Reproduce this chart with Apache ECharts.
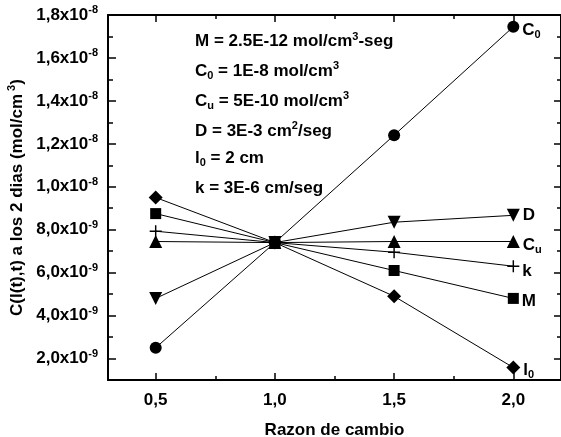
<!DOCTYPE html>
<html>
<head>
<meta charset="utf-8">
<script src="https://cdn.jsdelivr.net/npm/echarts@6/dist/echarts.min.js"></script>
<style>
  html, body { margin: 0; padding: 0; background: #fff; }
  #chart { width: 561px; height: 437px; }
</style>
</head>
<body>
<div id="chart"></div>
<script>
// values in units of 1e-9 mol/cm3
const ratio = [0.5, 1.0, 1.5, 2.0]
const c0Vals = [2.5, 7.4, 12.4, 17.45]
const dVals = [4.8, 7.4, 8.35, 8.67]
const cuVals = [7.45, 7.4, 7.45, 7.45]
const kVals = [7.93, 7.4, 6.95, 6.3]
const mVals = [8.75, 7.4, 6.1, 4.8]
const l0Vals = [9.5, 7.4, 4.9, 1.58]

const xMajor = [0.5, 1.0, 1.5, 2.0]
const xMinor = [0.75, 1.25, 1.75]
const yMajor = [2, 4, 6, 8, 10, 12, 14, 16, 18]
const yMinor = [3, 5, 7, 9, 11, 13, 15, 17]

const notes = [
    '{t|M = 2.5E-12 mol/cm}{sup|3}{t|-seg}',
    '{t|C}{sub|0}{t| = 1E-8 mol/cm}{sup|3}',
    '{t|C}{sub|u}{t| = 5E-10 mol/cm}{sup|3}',
    '{t|D = 3E-3 cm}{sup|2}{t|/seg}',
    '{t|l}{sub|0}{t| = 2 cm}',
    '{t|k = 3E-6 cm/seg}'
]

const FONT = '"Liberation Sans", Arial, sans-serif'
const rich = {
    t: {fontFamily: FONT, fontWeight: 'bold', fontSize: 17, color: '#000'},
    sup: {fontFamily: FONT, fontWeight: 'bold', fontSize: 11, color: '#000', padding: [0, 0, 10, 0]},
    sub: {fontFamily: FONT, fontWeight: 'bold', fontSize: 11, color: '#000', padding: [9, 0, 0, 0]}
}

let chart = echarts.init(document.getElementById('chart'))

let fmtY = (v) => {
    if (v >= 10) return '{t|' + (v / 10).toFixed(1).replace('.', ',') + 'x10}{sup|-8}'
    return '{t|' + v.toFixed(1).replace('.', ',') + 'x10}{sup|-9}'
}

// helper for box axes with inside ticks
let xAx = (pos, vals, len, show, extra) => Object.assign({
    type: 'value', position: pos, min: 0.3, max: 2.2,
    axisLine: {show: show, lineStyle: {color: '#000', width: 2}},
    axisTick: {show: true, inside: true, length: len, customValues: vals, lineStyle: {color: '#000', width: 1.5}},
    axisLabel: {show: false},
    splitLine: {show: false}
}, extra || {})

let yAx = (pos, vals, len, show, extra) => Object.assign({
    type: 'value', position: pos, min: 1, max: 18,
    axisLine: {show: show, lineStyle: {color: '#000', width: 2}},
    axisTick: {show: true, inside: true, length: len, customValues: vals, lineStyle: {color: '#000', width: 1.5}},
    axisLabel: {show: false},
    splitLine: {show: false}
}, extra || {})

let endLabel = (txt, dy) => ({
    show: true, position: 'right', distance: 3, offset: [0, dy],
    formatter: txt, rich: rich
})

let mkSeries = (name, vals, symbol, size, lbl, dy, rot) => ({
    name: name, type: 'line', xAxisIndex: 0, yAxisIndex: 0,
    data: ratio.map((x, i) => {
        let p = {value: [x, vals[i]]}
        if (i === ratio.length - 1) p.label = endLabel(lbl, dy)
        return p
    }),
    symbol: symbol, symbolSize: size, symbolRotate: rot || 0,
    showAllSymbol: true,
    lineStyle: {color: '#000', width: 1},
    itemStyle: {color: '#000'},
    label: {show: false},
    z: 3
})

const plusPath = 'path://M0 4.4H10V5.6H0Z M4.4 0H5.6V10H4.4Z'

chart.setOption({
    animation: false,
    backgroundColor: '#fff',
    grid: {left: 108, top: 15, right: 0, bottom: 57, outerBoundsMode: 'none'},
    xAxis: [
        xAx('bottom', xMajor, 7, true, {
            name: 'Razon de cambio', nameLocation: 'middle', nameGap: 42,
            nameTextStyle: {fontFamily: FONT, fontWeight: 'bold', fontSize: 17, color: '#000'},
            axisLabel: {show: true, customValues: xMajor, margin: 12,
                formatter: (v) => v.toFixed(1).replace('.', ','),
                fontFamily: FONT, fontWeight: 'bold', fontSize: 17, color: '#000'}
        }),
        xAx('bottom', xMinor, 4, false),
        xAx('top', xMajor, 7, true),
        xAx('top', xMinor, 4, false)
    ],
    yAxis: [
        yAx('left', yMajor, 8, true, {
            name: '{t|C(l(t),t) a los 2 dias (mol/cm}{sup| 3}{t|)}',
            nameLocation: 'middle', nameGap: 80,
            nameTextStyle: {rich: rich},
            axisLabel: {show: true, customValues: yMajor, margin: 10,
                formatter: fmtY, rich: rich}
        }),
        yAx('left', yMinor, 5, false),
        yAx('right', yMajor, 7, true),
        yAx('right', yMinor, 4, false)
    ],
    graphic: notes.map((n, i) => ({
        type: 'text', left: 195, top: 31 + i * 29.8,
        style: {text: n, rich: rich}
    })),
    series: [
        mkSeries('C0', c0Vals, 'circle', 12, '{t|C}{sub|0}', 4),
        mkSeries('D', dVals, 'triangle', 13, '{t|D}', 0, 180),
        mkSeries('Cu', cuVals, 'triangle', 13, '{t|C}{sub|u}', 4),
        mkSeries('k', kVals, plusPath, 12, '{t|k}', 5),
        mkSeries('M', mVals, 'rect', 11, '{t|M}', 3),
        mkSeries('l0', l0Vals, 'diamond', 14, '{t|l}{sub|0}', 3)
    ]
})
</script>
</body>
</html>
